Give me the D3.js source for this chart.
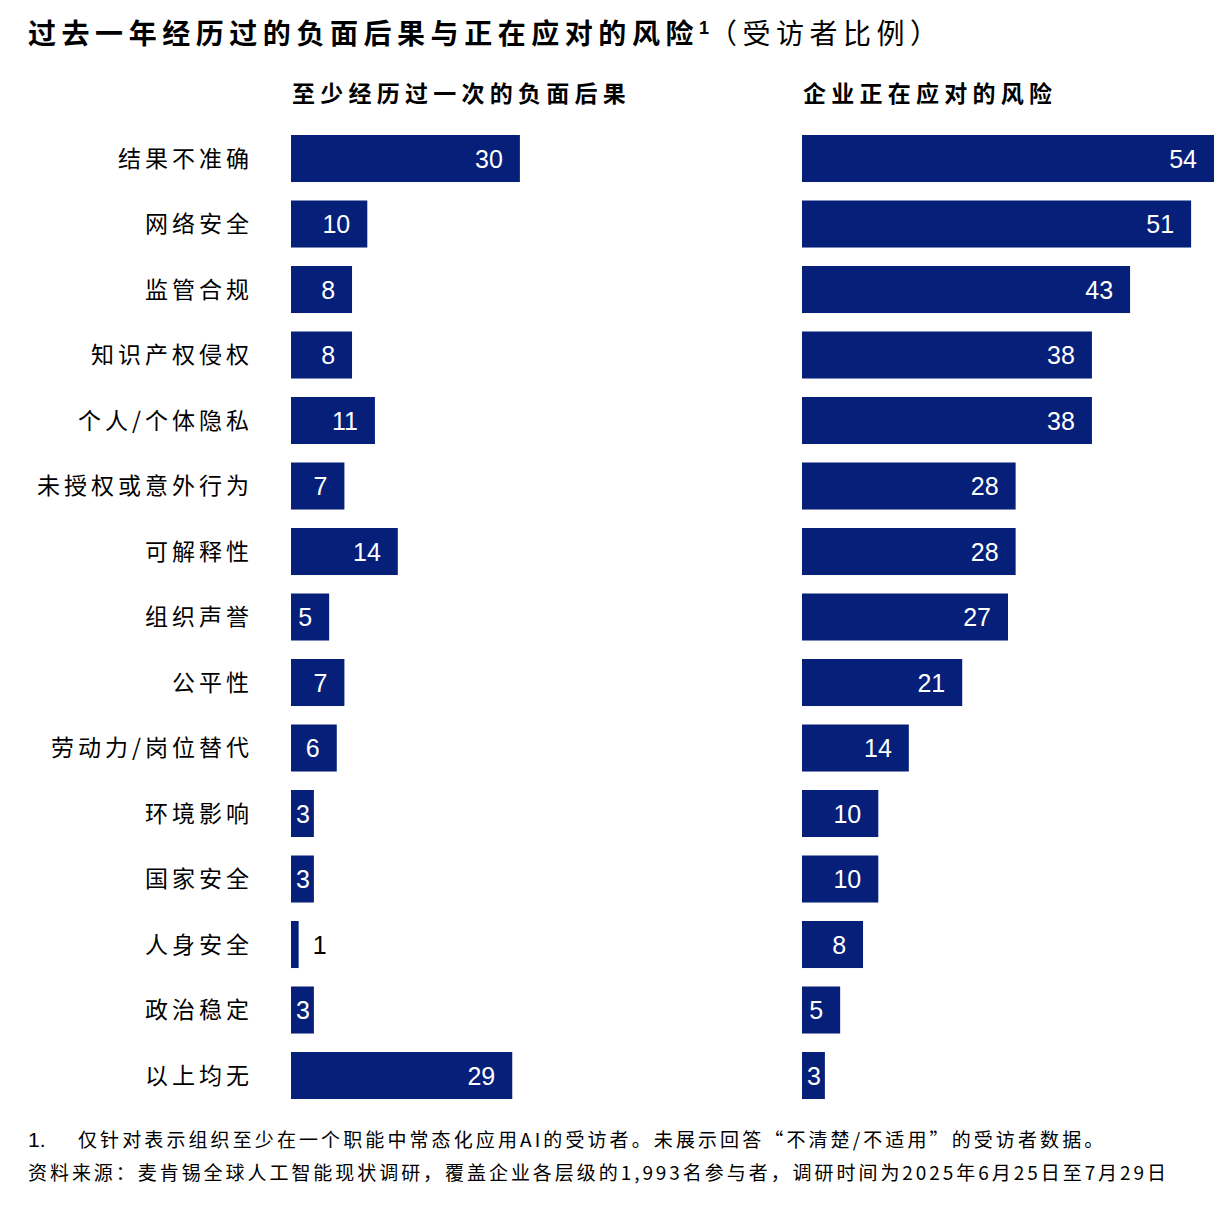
<!DOCTYPE html>
<html>
<head>
<meta charset="utf-8">
<script src="https://cdn.jsdelivr.net/npm/d3@7"></script>
<style>
  body { margin: 0; background: #fff; }
  svg { display: block; }
</style>
</head>
<body>
<div id="chart"></div>
<script>
const categories = ['结果不准确', '网络安全', '监管合规', '知识产权侵权', '个人/个体隐私', '未授权或意外行为',
  '可解释性', '组织声誉', '公平性', '劳动力/岗位替代', '环境影响', '国家安全', '人身安全', '政治稳定', '以上均无'];
const experienced = [30, 10, 8, 8, 11, 7, 14, 5, 7, 6, 3, 3, 1, 3, 29];
const mitigating = [54, 51, 43, 38, 38, 28, 28, 27, 21, 14, 10, 10, 8, 5, 3];

const title = '过去一年经历过的负面后果与正在应对的风险';
const titleNote = '（受访者比例）';
const panelTitles = ['至少经历过一次的负面后果', '企业正在应对的风险'];
const footnote = '仅针对表示组织至少在一个职能中常态化应用AI的受访者。未展示回答“不清楚/不适用”的受访者数据。';
const source = '资料来源：麦肯锡全球人工智能现状调研，覆盖企业各层级的1,993名参与者，调研时间为2025年6月25日至7月29日';

const width = 1232, height = 1217;
const navy = '#06207a';
const cjk = '"Noto Sans CJK SC", "Noto Sans", sans-serif';
const num = '"Liberation Sans", Arial, sans-serif';

const svg = d3.select('#chart').append('svg')
  .attr('width', width)
  .attr('height', height);

// title
const t = svg.append('text')
  .attr('x', 28)
  .attr('y', 44)
  .attr('font-family', cjk)
  .attr('font-size', 28)
  .attr('fill', '#000');
t.append('tspan').attr('font-weight', 700).attr('letter-spacing', 5.55).text(title);
t.append('tspan').attr('font-weight', 700).attr('font-size', 18).attr('dy', -10)
  .attr('font-family', num).text('1');
t.append('tspan').attr('dy', 10).attr('font-weight', 400).attr('letter-spacing', 5.5).text(titleNote);

const y = d3.scaleBand()
  .domain(categories)
  .range([125.76, 1108.26])
  .paddingInner(0.282)
  .paddingOuter(0.141);

const x = d3.scaleLinear().domain([0, 54]).range([0, 412]);

// category labels
svg.append('g')
  .selectAll('text')
  .data(categories)
  .join('text')
    .attr('x', 253)
    .attr('y', d => y(d) + y.bandwidth() / 2)
    .attr('dy', '0.36em')
    .attr('text-anchor', 'end')
    .attr('font-family', cjk)
    .attr('font-size', 23)
    .attr('letter-spacing', 4)
    .attr('fill', '#000')
    .text(d => d);

function panel(values, left, heading) {
  const g = svg.append('g').attr('transform', `translate(${left},0)`);

  g.append('text')
    .attr('x', 1)
    .attr('y', 102)
    .attr('font-family', cjk)
    .attr('font-size', 23)
    .attr('font-weight', 700)
    .attr('letter-spacing', 5.25)
    .attr('fill', '#000')
    .text(heading);

  const rows = g.selectAll('g.row')
    .data(values.map((v, i) => ({cat: categories[i], v})))
    .join('g')
      .attr('class', 'row');

  rows.append('rect')
    .attr('x', 0)
    .attr('y', d => y(d.cat))
    .attr('width', d => x(d.v))
    .attr('height', y.bandwidth())
    .attr('fill', navy);

  rows.append('text')
    .attr('y', d => y(d.cat) + y.bandwidth() / 2)
    .attr('dy', '0.36em')
    .attr('font-family', num)
    .attr('font-size', 25)
    .each(function(d) {
      const w = x(d.v);
      const el = d3.select(this).text(d.v);
      if (w < 20) {
        el.attr('x', w + 14).attr('text-anchor', 'start').attr('fill', '#000');
      } else {
        const tw = d.v >= 10 ? 28 : 14;
        el.attr('x', Math.max(5 + tw, w - 17)).attr('text-anchor', 'end').attr('fill', '#fff');
      }
    });
}

panel(experienced, 291, panelTitles[0]);
panel(mitigating, 802, panelTitles[1]);

// footnotes
const f1 = svg.append('text')
  .attr('y', 1147)
  .attr('font-family', cjk)
  .attr('font-size', 19)
  .attr('fill', '#000');
f1.append('tspan').attr('x', 28).attr('font-family', num).attr('font-size', 21).text('1.');
f1.append('tspan').attr('x', 78).attr('letter-spacing', 3.1).text(footnote);

svg.append('text')
  .attr('x', 28)
  .attr('y', 1180)
  .attr('font-family', cjk)
  .attr('font-size', 19)
  .attr('letter-spacing', 2.95)
  .attr('fill', '#000')
  .text(source);
</script>
</body>
</html>
